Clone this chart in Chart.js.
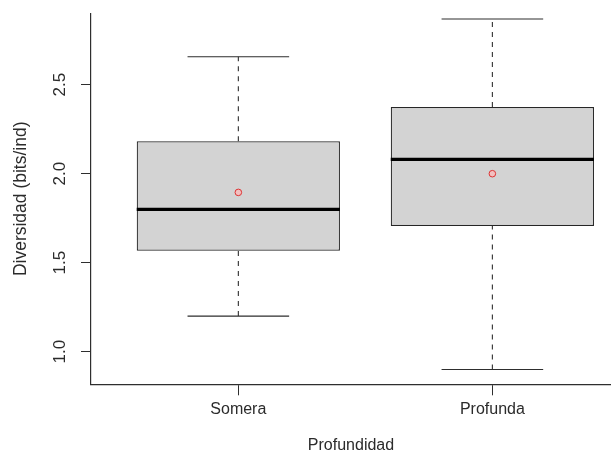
<!DOCTYPE html>
<html><head><meta charset="utf-8">
<script src="https://cdn.jsdelivr.net/npm/chart.js@4/dist/chart.umd.min.js"></script>
<style>html,body{margin:0;padding:0;background:#fff;overflow:hidden}#wrap{width:611px;height:452px;position:relative}</style>
</head><body><div id="wrap"><canvas id="c" width="611" height="452"></canvas></div>
<script>
// ---- data ----
const categories = ['Somera', 'Profunda'];
const whiskerLow = [1.20, 0.90];
const q1 = [1.567, 1.706];
const medians = [1.80, 2.081];
const q3 = [2.182, 2.375];
const whiskerHigh = [2.657, 2.869];
const means = [1.895, 2.00];
const yTicks = [1.0, 1.5, 2.0, 2.5];
const yTickLabels = ['1.0', '1.5', '2.0', '2.5'];
const xTitle = 'Profundidad';
const yTitle = 'Diversidad (bits/ind)';

// ---- build datasets ----
const pos = categories.map((_, i) => i + 1);
const BOX_HALF = 0.4, CAP_HALF = 0.2;
const GAP = (i) => ({x: pos[i] + 0.5, y: null});

const medianData = [], capData = [], whiskerData = [];
pos.forEach((p, i) => {
  medianData.push({x: p - BOX_HALF, y: medians[i]}, {x: p + BOX_HALF, y: medians[i]}, GAP(i));
  capData.push({x: p - CAP_HALF, y: whiskerHigh[i]}, {x: p + CAP_HALF, y: whiskerHigh[i]}, GAP(i));
  capData.push({x: p - CAP_HALF, y: whiskerLow[i]}, {x: p + CAP_HALF, y: whiskerLow[i]}, GAP(i));
  whiskerData.push({x: p, y: q3[i]}, {x: p, y: whiskerHigh[i]}, GAP(i));
  whiskerData.push({x: p, y: whiskerLow[i]}, {x: p, y: q1[i]}, GAP(i));
});
const meanData = pos.map((p, i) => ({x: p, y: means[i]}));
const boxData = pos.map((p, i) => ({x: p, y: [q1[i], q3[i]]}));

const AX = '#2e2e2e';
const TXT = '#2b2b2b';
const FONT = '"Liberation Sans", Arial, sans-serif';

function zeroPad(s) { s.paddingTop = 0; s.paddingBottom = 0; s.paddingLeft = 0; s.paddingRight = 0; }

new Chart(document.getElementById('c'), {
  type: 'bar',
  data: {
    datasets: [
      {type: 'line', label: 'mean', data: meanData, showLine: false, pointRadius: 3.3, pointBorderWidth: 1,
       pointBorderColor: '#dd3333', pointBackgroundColor: 'rgba(245,190,190,0.9)'},
      {type: 'line', label: 'median', data: medianData, borderColor: '#000', borderWidth: 3.3,
       borderCapStyle: 'butt', pointRadius: 0, spanGaps: false},
      {type: 'line', label: 'caps', data: capData, borderColor: AX, borderWidth: 1.1,
       pointRadius: 0, spanGaps: false},
      {type: 'line', label: 'whiskers', data: whiskerData, borderColor: AX, borderWidth: 1.1,
       borderDash: [5, 5], pointRadius: 0, spanGaps: false},
      {type: 'bar', label: 'box', data: boxData, backgroundColor: '#d3d3d3', borderColor: '#262626',
       borderWidth: 1.2, borderSkipped: false, barPercentage: 0.8, categoryPercentage: 1.0}
    ]
  },
  options: {
    responsive: false,
    animation: false,
    devicePixelRatio: 1,
    layout: {autoPadding: false, padding: {top: 13.3, left: 0, right: 0, bottom: 0}},
    plugins: {legend: {display: false}, tooltip: {enabled: false}},
    scales: {
      x: {
        type: 'linear', offset: false, min: 0.42, max: 2.467,
        grid: {display: true, drawOnChartArea: false, drawTicks: true, tickLength: 11, color: AX, offset: false},
        border: {display: true, color: AX, width: 1.2},
        afterBuildTicks: (s) => { s.ticks = pos.map(v => ({value: v})); },
        afterFit: (s) => { s.height = 452 - 384.3; zeroPad(s); },
        ticks: {color: TXT, font: {family: FONT, size: 16}, padding: 5, maxRotation: 0, autoSkip: false,
                callback: (v) => categories[Math.round(v) - 1]},
        title: {display: true, text: xTitle, color: TXT, font: {family: FONT, size: 16, lineHeight: 0.8},
                padding: {top: 0, bottom: 0}}
      },
      y: {
        type: 'linear', min: 0.817, max: 2.901,
        grid: {display: true, drawOnChartArea: false, drawTicks: true, tickLength: 10, color: AX},
        border: {display: true, color: AX, width: 1.2},
        afterBuildTicks: (s) => { s.ticks = yTicks.map(v => ({value: v})); },
        afterFit: (s) => { s.width = 91; zeroPad(s); },
        ticks: {color: TXT, font: {family: FONT, size: 17}, padding: 9, minRotation: 90, maxRotation: 90,
                crossAlign: 'center', callback: (v, i) => yTickLabels[i]},
        title: {display: true, text: yTitle, color: TXT, font: {family: FONT, size: 17.5, lineHeight: 1.2},
                padding: {top: 10.5, bottom: 0}}
      }
    }
  }
});
</script>
</body></html>
